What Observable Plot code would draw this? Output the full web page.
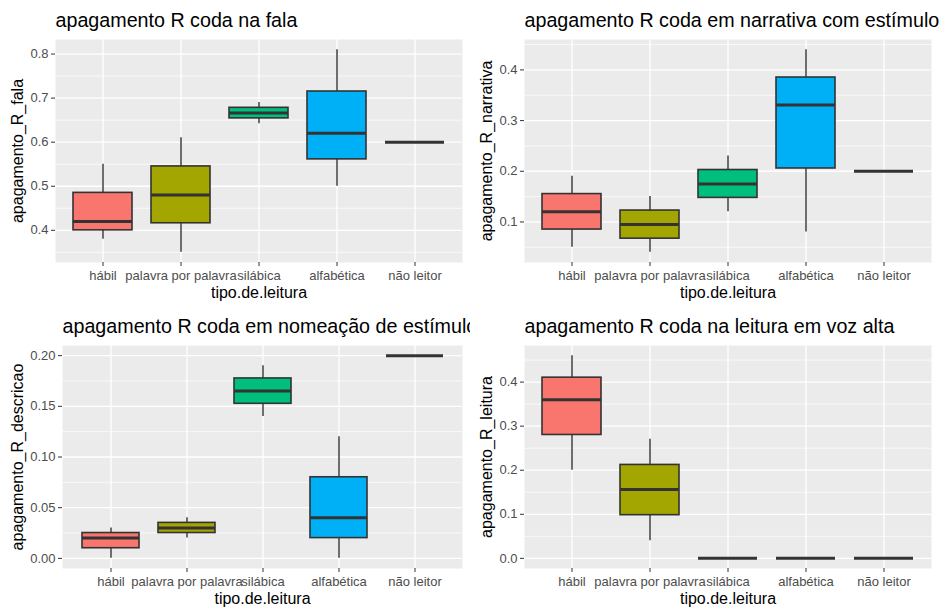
<!DOCTYPE html>
<html>
<head>
<meta charset="utf-8">
<script src="https://cdn.jsdelivr.net/npm/d3@7"></script>
<script src="https://cdn.jsdelivr.net/npm/@observablehq/plot@0.6"></script>
<style>
  body { margin: 0; background: #ffffff; }
  #grid { position: relative; width: 941px; height: 607px; overflow: hidden; }
  .panel { position: absolute; overflow: hidden; }
  .panel svg { display: block; }
</style>
</head>
<body>
<div id="grid"></div>
<script>
// Reading types on the x axis
const categories = ["hábil", "palavra por palavra", "silábica", "alfabética", "não leitor"];
const boxColors = ["#F8766D", "#A3A500", "#00BF7D", "#00B0F6", "#E76BF3"];

// Five-number summaries per reading type: [lower whisker, Q1, median, Q3, upper whisker]
const fala = [
  [0.38, 0.40, 0.42, 0.485, 0.55],
  [0.35, 0.416, 0.48, 0.545, 0.61],
  [0.642, 0.654, 0.666, 0.678, 0.69],
  [0.50, 0.561, 0.62, 0.715, 0.81],
  [0.60, 0.60, 0.60, 0.60, 0.60]
];
const narrativa = [
  [0.05, 0.085, 0.12, 0.155, 0.19],
  [0.04, 0.067, 0.095, 0.1225, 0.15],
  [0.12, 0.1475, 0.175, 0.2025, 0.23],
  [0.08, 0.2055, 0.331, 0.385, 0.44],
  [0.20, 0.20, 0.20, 0.20, 0.20]
];
const descricao = [
  [0.00, 0.01, 0.02, 0.025, 0.03],
  [0.02, 0.025, 0.03, 0.035, 0.04],
  [0.14, 0.1525, 0.165, 0.1775, 0.19],
  [0.00, 0.02, 0.04, 0.08, 0.12],
  [0.20, 0.20, 0.20, 0.20, 0.20]
];
const leitura = [
  [0.20, 0.28, 0.36, 0.41, 0.46],
  [0.04, 0.098, 0.156, 0.212, 0.27],
  [0, 0, 0, 0, 0],
  [0, 0, 0, 0, 0],
  [0, 0, 0, 0, 0]
];

const panelTitles = [
  "apagamento R coda na fala",
  "apagamento R coda em narrativa com estímulo",
  "apagamento R coda em nomeação de estímulo",
  "apagamento R coda na leitura em voz alta"
];
const yLabels = ["apagamento_R_fala", "apagamento_R_narrativa", "apagamento_R_descricao", "apagamento_R_leitura"];
const xLabel = "tipo.de.leitura";
const yTicks = [
  [0.4, 0.5, 0.6, 0.7, 0.8],
  [0.1, 0.2, 0.3, 0.4],
  [0, 0.05, 0.1, 0.15, 0.2],
  [0, 0.1, 0.2, 0.3, 0.4]
];
const yTickFormats = [".1f", ".1f", ".2f", ".1f"];

const series = [fala, narrativa, descricao, leitura];

// Panel placement inside the 2x2 grid
const layout = [
  {left: 0,   top: 0,   width: 470, height: 305, ml: 55, mr: 8,  mt: 39, mb: 43, ylabDx: -38},
  {left: 470, top: 0,   width: 471, height: 305, ml: 54, mr: 10, mt: 39, mb: 43, ylabDx: -38},
  {left: 0,   top: 305, width: 470, height: 302, ml: 62, mr: 8,  mt: 40, mb: 39, ylabDx: -44.5},
  {left: 470, top: 305, width: 471, height: 302, ml: 54, mr: 10, mt: 40, mb: 39, ylabDx: -38}
];

const fontFamily = "'Liberation Sans', Arial, Helvetica, sans-serif";
const ink = "#333333";
const grid = document.getElementById("grid");

series.forEach((summary, i) => {
  const L = layout[i];
  const rows = summary.map((s, j) => ({
    cat: categories[j], low: s[0], q1: s[1], med: s[2], q3: s[3], high: s[4]
  }));

  // y limits: data range expanded by 5% on each side
  const lo = d3.min(rows, d => d.low);
  const hi = d3.max(rows, d => d.high);
  const pad = (hi - lo) * 0.05;
  const domain = [lo - pad, hi + pad];

  // minor gridlines halfway between major ticks (and one step beyond each end)
  const t = yTicks[i];
  const step = t[1] - t[0];
  const minor = [t[0] - step / 2, ...t.map(v => v + step / 2)]
    .filter(v => v >= domain[0] && v <= domain[1]);

  const chart = Plot.plot({
    width: L.width,
    height: L.height,
    marginLeft: L.ml,
    marginRight: L.mr,
    marginTop: L.mt,
    marginBottom: L.mb,
    style: {fontFamily, background: "transparent", overflow: "hidden"},
    x: {type: "band", domain: categories, paddingInner: 0.25, paddingOuter: 0.225},
    y: {domain, nice: false},
    color: {domain: categories, range: boxColors},
    marks: [
      Plot.frame({fill: "#EBEBEB", stroke: null}),
      Plot.ruleY(minor, {stroke: "white", strokeWidth: 0.7}),
      Plot.gridY({ticks: t, stroke: "white", strokeOpacity: 1, strokeWidth: 1.3}),
      Plot.gridX({stroke: "white", strokeOpacity: 1, strokeWidth: 1.3}),
      Plot.axisY({ticks: t, tickFormat: d3.format(yTickFormats[i]), tickSize: 4, tickPadding: 3,
        fontSize: 13, fill: "#4D4D4D", stroke: ink, label: null}),
      Plot.axisX({tickSize: 4, tickPadding: 4, fontSize: 13, fill: "#4D4D4D", stroke: ink, label: null}),
      Plot.ruleX(rows, {x: "cat", y1: "low", y2: "high", stroke: ink, strokeWidth: 1.4}),
      Plot.barY(rows, {x: "cat", y1: "q1", y2: "q3", fill: "cat", stroke: ink, strokeWidth: 1.6}),
      Plot.tickY(rows, {x: "cat", y: "med", stroke: ink, strokeWidth: 3}),
      Plot.text([panelTitles[i]], {frameAnchor: "top-left", textAnchor: "start", lineAnchor: "middle",
        dy: -18.7, fontSize: 19.7, fill: "black"}),
      Plot.text([xLabel], {frameAnchor: "bottom", lineAnchor: "middle", dy: 30.4, fontSize: 16, fill: "black"}),
      Plot.text([yLabels[i]], {frameAnchor: "left", textAnchor: "middle", lineAnchor: "middle", rotate: -90,
        dx: L.ylabDx, fontSize: 16, fill: "black"})
    ]
  });

  const div = document.createElement("div");
  div.className = "panel";
  Object.assign(div.style, {left: L.left + "px", top: L.top + "px", width: L.width + "px", height: L.height + "px"});
  div.appendChild(chart);
  grid.appendChild(div);
});
</script>
</body>
</html>
